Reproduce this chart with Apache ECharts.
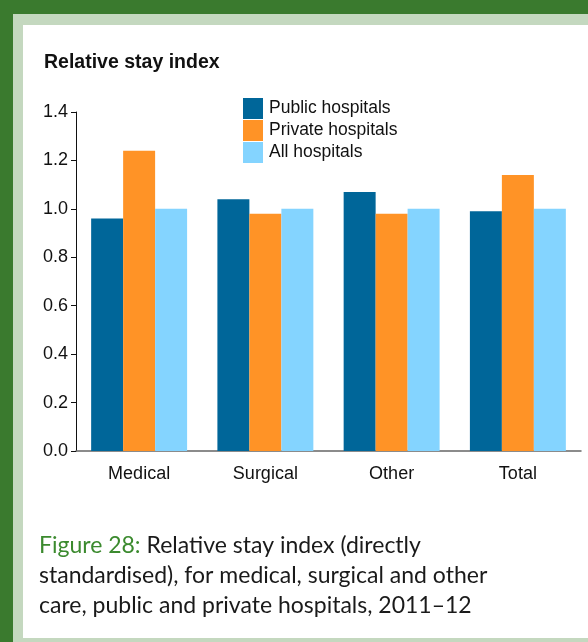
<!DOCTYPE html>
<html>
<head>
<meta charset="utf-8">
<script src="https://cdn.jsdelivr.net/npm/echarts@6/dist/echarts.min.js"></script>
<style>
html,body{margin:0;padding:0;background:#fff;}
#c{width:588px;height:642px;}
</style>
</head>
<body>
<div id="c"></div>
<script>
const categories = ['Medical', 'Surgical', 'Other', 'Total'];
const publicHospitals = [0.96, 1.04, 1.07, 0.99];
const privateHospitals = [1.24, 0.98, 0.98, 1.14];
const allHospitals = [1.00, 1.00, 1.00, 1.00];
const seriesNames = ['Public hospitals', 'Private hospitals', 'All hospitals'];
const yTitle = 'Relative stay index';
const captionLabel = 'Figure 28:';
const captionLines = [' Relative stay index (directly', 'standardised), for medical, surgical and other', 'care, public and private hospitals, 2011\u201312'];

const chart = echarts.init(document.getElementById('c'));
const font = 'Liberation Sans, Arial, sans-serif';
const capFont = 'Lato, Noto Sans, sans-serif';
const capSize = 23;
chart.setOption({
  animation: false,
  backgroundColor: '#ffffff',
  color: ['#006699', '#ff9326', '#84d4ff'],
  graphic: [
    {type: 'rect', shape: {x: 0, y: 0, width: 588, height: 14}, style: {fill: '#3a7a2e'}, z: -10},
    {type: 'rect', shape: {x: 0, y: 0, width: 13, height: 642}, style: {fill: '#3a7a2e'}, z: -10},
    {type: 'rect', shape: {x: 13, y: 14, width: 575, height: 11}, style: {fill: '#c4d8bf'}, z: -10},
    {type: 'rect', shape: {x: 13, y: 14, width: 10, height: 628}, style: {fill: '#c4d8bf'}, z: -10},
    {type: 'rect', shape: {x: 13, y: 638, width: 575, height: 4}, style: {fill: '#c4d8bf'}, z: -10},
    {type: 'text', left: 44, top: 53, style: {text: yTitle, font: 'bold 19.5px ' + font, fill: '#111'}},
    {type: 'text', left: 39, top: 534, style: {
      text: '{g|' + captionLabel + '}{k|' + captionLines[0] + '}',
      rich: {g: {font: capSize + 'px ' + capFont, fill: '#3b8a2e'}, k: {font: capSize + 'px ' + capFont, fill: '#1a1a1a'}}
    }},
    {type: 'text', left: 39, top: 564, style: {text: captionLines[1], font: capSize + 'px ' + capFont, fill: '#1a1a1a'}},
    {type: 'text', left: 39, top: 594, style: {text: captionLines[2], font: capSize + 'px ' + capFont, fill: '#1a1a1a'}}
  ],
  legend: {
    orient: 'vertical', left: 243, top: 98, padding: 0,
    itemWidth: 20, itemHeight: 21, itemGap: 1, icon: 'rect',
    textStyle: {fontFamily: font, fontSize: 17.5, color: '#111', padding: [0, 0, 0, 1]},
    data: seriesNames
  },
  grid: {left: 76, right: 7, top: 112, bottom: 191, containLabel: false},
  xAxis: {
    type: 'category', data: categories,
    axisLine: {lineStyle: {color: '#666', width: 1.5}},
    axisTick: {show: false},
    axisLabel: {fontFamily: font, fontSize: 18, color: '#111', margin: 14}
  },
  yAxis: {
    type: 'value', min: 0, max: 1.4, interval: 0.2,
    axisLine: {show: true, lineStyle: {color: '#111', width: 1}},
    axisTick: {show: true, length: 5, lineStyle: {color: '#111'}},
    splitLine: {show: false},
    axisLabel: {fontFamily: font, fontSize: 18, color: '#111', margin: 8, formatter: v => v.toFixed(1)}
  },
  series: [
    {name: seriesNames[0], type: 'bar', data: publicHospitals, barGap: '0%', barCategoryGap: '24%'},
    {name: seriesNames[1], type: 'bar', data: privateHospitals, barGap: '0%', barCategoryGap: '24%'},
    {name: seriesNames[2], type: 'bar', data: allHospitals, barGap: '0%', barCategoryGap: '24%'}
  ]
});
</script>
</body>
</html>
